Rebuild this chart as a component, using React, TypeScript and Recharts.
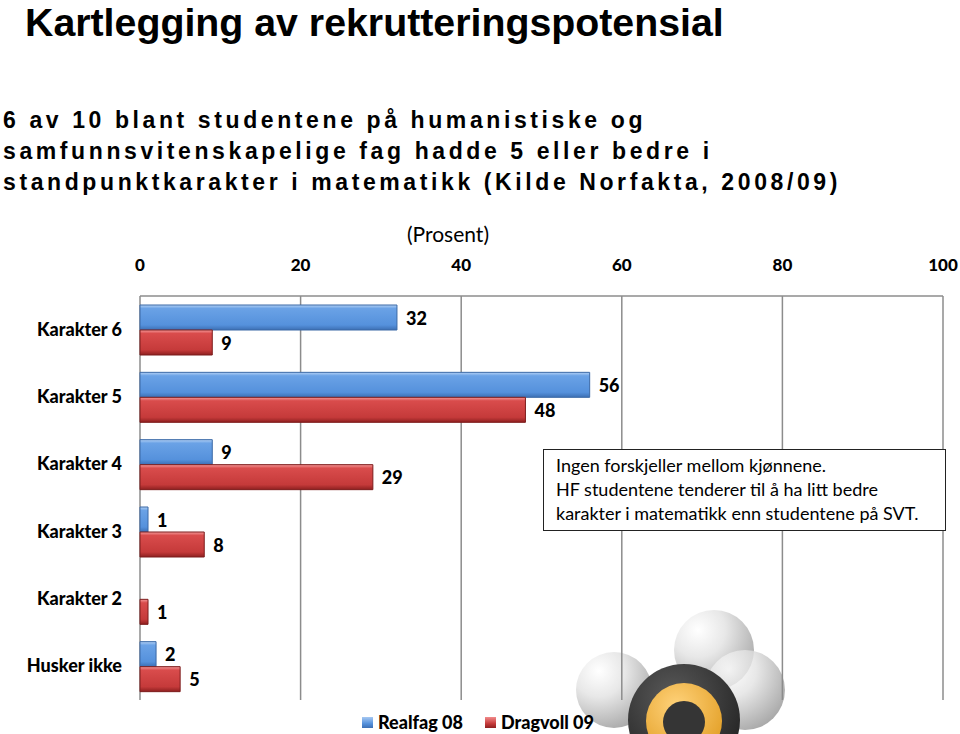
import { BarChart, Bar, XAxis, YAxis, CartesianGrid, LabelList, Legend } from 'recharts'

const categories = ['Karakter 6', 'Karakter 5', 'Karakter 4', 'Karakter 3', 'Karakter 2', 'Husker ikke']
const realfag08 = [32, 56, 9, 1, null, 2]
const dragvoll09 = [9, 48, 29, 8, 1, 5]
const xTicks = [0, 20, 40, 60, 80, 100]

const seriesNames = { realfag: 'Realfag 08', dragvoll: 'Dragvoll 09' }

const title = 'Kartlegging av rekrutteringspotensial'
const subtitleLines = [
  '6 av 10 blant studentene på humanistiske og',
  'samfunnsvitenskapelige fag hadde 5 eller bedre i',
  'standpunktkarakter i matematikk (Kilde Norfakta, 2008/09)',
]
const noteLines = [
  'Ingen forskjeller mellom kjønnene.',
  'HF studentene tenderer til å ha litt bedre',
  'karakter i matematikk enn studentene på SVT.',
]

const data = categories.map((name, i) => ({
  name,
  realfag: realfag08[i],
  dragvoll: dragvoll09[i],
}))

const FONT = 'Lato, "Open Sans", sans-serif'
const ARIAL = '"Liberation Sans", Arial, sans-serif'
const GRID = '#8c8c8c'

function XTick(props: any) {
  const { x, y, payload } = props
  return (
    <text x={x} y={y - 25} textAnchor="middle" fontFamily={FONT} fontWeight={900} fontSize={17} fill="#000">
      {payload.value}
    </text>
  )
}

function YTick(props: any) {
  const { x, y, payload } = props
  return (
    <text x={x - 18} y={y + 6} textAnchor="end" fontFamily={FONT} fontWeight={900} fontSize={18} fill="#000">
      {payload.value}
    </text>
  )
}

function ValueLabel(props: any) {
  const vb = props.viewBox ?? props
  const { value } = props
  if (value == null) return null
  return (
    <text
      x={vb.x + vb.width + 9}
      y={vb.y + vb.height / 2 + 7}
      fontFamily={FONT}
      fontWeight={900}
      fontSize={18}
      fill="#000"
    >
      {value}
    </text>
  )
}

function LegendContent() {
  const items = [
    { name: seriesNames.realfag, bg: 'linear-gradient(#a6c8f2, #5591dc 60%, #3c6fb4)' },
    { name: seriesNames.dragvoll, bg: 'linear-gradient(#f28b8b, #c53a3a 60%, #8e2020)' },
  ]
  return (
    <div style={{ display: 'flex', gap: 22, height: 24, alignItems: 'center', fontFamily: FONT, fontWeight: 900, fontSize: 18, color: '#000' }}>
      {items.map(it => (
        <span key={it.name} style={{ display: 'flex', alignItems: 'center' }}>
          <span style={{ width: 11, height: 11, background: it.bg, marginRight: 5, display: 'inline-block' }} />
          {it.name}
        </span>
      ))}
    </div>
  )
}

function Logo() {
  return (
    <svg width={960} height={734} style={{ position: 'absolute', left: 0, top: 0 }}>
      <defs>
        <radialGradient id="sphere" cx="0.3" cy="0.25" r="0.85">
          <stop offset="0%" stopColor="#ffffff" />
          <stop offset="40%" stopColor="#e2e2e2" />
          <stop offset="100%" stopColor="#8e8e8e" />
        </radialGradient>
        <radialGradient id="blackBall" cx="0.4" cy="0.3" r="0.8">
          <stop offset="0%" stopColor="#5a5a5a" />
          <stop offset="100%" stopColor="#1e1e1e" />
        </radialGradient>
        <radialGradient id="goldRing" cx="0.4" cy="0.3" r="0.8">
          <stop offset="0%" stopColor="#ffd27a" />
          <stop offset="100%" stopColor="#e09a1e" />
        </radialGradient>
      </defs>
      <circle cx={614} cy={690} r={38} fill="url(#sphere)" opacity={0.8} />
      <circle cx={714} cy={650} r={40} fill="url(#sphere)" opacity={0.8} />
      <circle cx={745} cy={690} r={40} fill="url(#sphere)" opacity={0.8} />
      <circle cx={684} cy={720} r={56} fill="url(#blackBall)" />
      <circle cx={684} cy={721} r={38} fill="url(#goldRing)" />
      <circle cx={684} cy={722} r={21} fill="#353535" />
    </svg>
  )
}

function Overlay() {
  return (
    <svg width={960} height={734} style={{ position: 'absolute', left: 0, top: 0, pointerEvents: 'none' }}>
      <text x={25} y={36} fontFamily={ARIAL} fontWeight={700} fontSize={39.3} fill="#000">{title}</text>
      {subtitleLines.map((line, i) => (
        <text key={i} x={3} y={128 + i * 31} fontFamily={ARIAL} fontWeight={700} fontSize={23} letterSpacing={3.6} fill="#000">
          {line}
        </text>
      ))}
      <text x={448} y={242} textAnchor="middle" fontFamily={FONT} fontSize={21} fill="#000">(Prosent)</text>
      <rect x={543.5} y={449.5} width={402} height={81} fill="#fff" stroke="#222" strokeWidth={1} />
      {noteLines.map((line, i) => (
        <text key={i} x={556} y={472 + i * 24} fontFamily={FONT} fontSize={18} fill="#000">
          {line}
        </text>
      ))}
    </svg>
  )
}

export default function App() {
  return (
    <div style={{ position: 'absolute', left: 0, top: 0, width: 960, height: 734, background: '#fff', overflow: 'hidden' }}>
      <Logo />
      <div style={{ position: 'absolute', left: 0, top: 0 }}>
        <BarChart
          width={960}
          height={734}
          data={data}
          layout="vertical"
          margin={{ top: 250, right: 17, bottom: 10, left: 0 }}
          barSize={25}
          barGap={0}
        >
          <defs>
            <linearGradient id="blueBar" x1="0" y1="0" x2="0" y2="1">
              <stop offset="0%" stopColor="#b3d1f5" />
              <stop offset="14%" stopColor="#6aa2e6" />
              <stop offset="80%" stopColor="#5591dc" />
              <stop offset="100%" stopColor="#3c6fb4" />
            </linearGradient>
            <linearGradient id="redBar" x1="0" y1="0" x2="0" y2="1">
              <stop offset="0%" stopColor="#f59a9a" />
              <stop offset="14%" stopColor="#d94c4c" />
              <stop offset="80%" stopColor="#c53a3a" />
              <stop offset="100%" stopColor="#8e2020" />
            </linearGradient>
          </defs>
          <CartesianGrid horizontal={false} stroke={GRID} strokeWidth={1.5} />
          <XAxis
            type="number"
            orientation="top"
            domain={[0, 100]}
            ticks={xTicks}
            height={46}
            axisLine={{ stroke: GRID, strokeWidth: 1.5 }}
            tickLine={false}
            tickSize={0}
            tickMargin={0}
            tick={<XTick />}
            interval={0}
          />
          <YAxis
            type="category"
            dataKey="name"
            width={140}
            axisLine={false}
            tickLine={false}
            tickSize={0}
            tickMargin={0}
            tick={<YTick />}
            interval={0}
          />
          <Legend
            verticalAlign="bottom"
            content={<LegendContent />}
            wrapperStyle={{ left: 362, top: 710, bottom: 'auto', width: 'auto' }}
          />
          <Bar dataKey="realfag" name={seriesNames.realfag} fill="url(#blueBar)" stroke="#3a69a6" strokeWidth={1} isAnimationActive={false}>
            <LabelList dataKey="realfag" content={<ValueLabel />} />
          </Bar>
          <Bar dataKey="dragvoll" name={seriesNames.dragvoll} fill="url(#redBar)" stroke="#7d1c1c" strokeWidth={1} isAnimationActive={false}>
            <LabelList dataKey="dragvoll" content={<ValueLabel />} />
          </Bar>
        </BarChart>
      </div>
      <Overlay />
    </div>
  )
}
